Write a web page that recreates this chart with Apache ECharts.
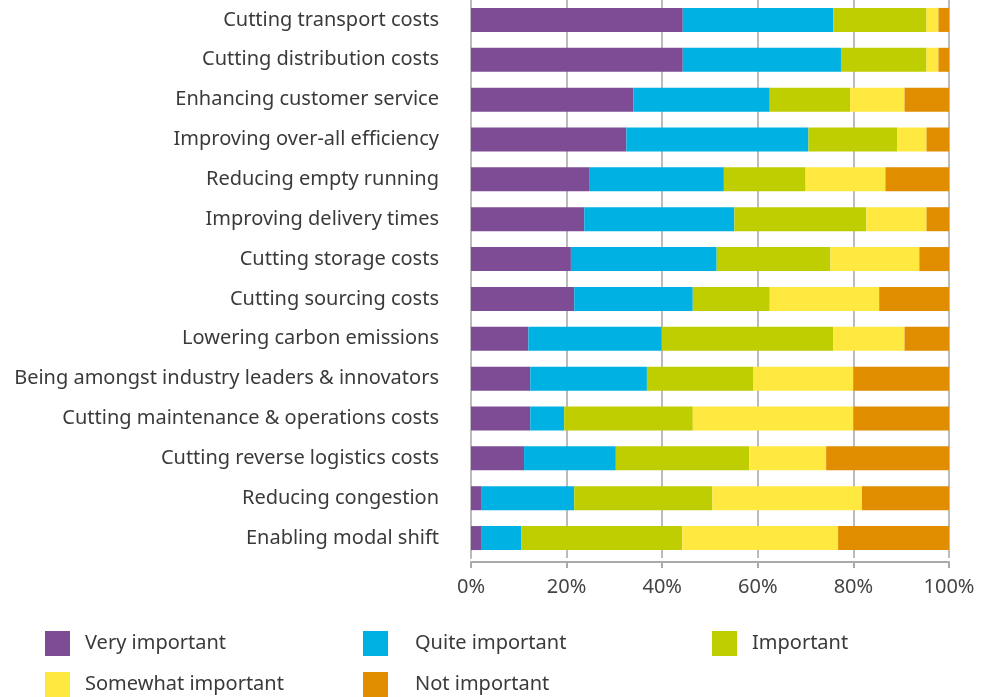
<!DOCTYPE html>
<html>
<head>
<meta charset="utf-8">
<script src="https://cdn.jsdelivr.net/npm/echarts@6/dist/echarts.min.js"></script>
<style>
  html, body { margin: 0; padding: 0; background: #fff; }
  #chart { width: 981px; height: 697px; }
</style>
</head>
<body>
<div id="chart"></div>
<script>
const categories = [
    'Cutting transport costs',
    'Cutting distribution costs',
    'Enhancing customer service',
    'Improving over-all efficiency',
    'Reducing empty running',
    'Improving delivery times',
    'Cutting storage costs',
    'Cutting sourcing costs',
    'Lowering carbon emissions',
    'Being amongst industry leaders & innovators',
    'Cutting maintenance & operations costs',
    'Cutting reverse logistics costs',
    'Reducing congestion',
    'Enabling modal shift'
];

// percentages, top row first
const veryImportant     = [44.3, 44.3, 34.0, 32.5, 24.7, 23.7, 20.9, 21.6, 12.0, 12.4, 12.4, 11.1, 2.1, 2.1];
const quiteImportant    = [31.5, 33.1, 28.5, 38.1, 28.2, 31.4, 30.5, 24.8, 27.9, 24.4, 7.1, 19.2, 19.5, 8.4];
const important         = [19.5, 17.9, 16.8, 18.6, 17.1, 27.6, 23.8, 16.1, 35.9, 22.3, 26.9, 27.9, 28.9, 33.7];
const somewhatImportant = [2.5, 2.5, 11.4, 6.1, 16.7, 12.6, 18.6, 22.9, 14.9, 20.9, 33.6, 16.1, 31.3, 32.6];
const notImportant      = [2.2, 2.2, 9.3, 4.7, 13.3, 4.7, 6.2, 14.6, 9.3, 20.0, 20.0, 25.7, 18.2, 23.2];

const seriesDefs = [
    { name: 'Very important', data: veryImportant, color: '#7e4c94' },
    { name: 'Quite important', data: quiteImportant, color: '#00b1e3' },
    { name: 'Important', data: important, color: '#bfce00' },
    { name: 'Somewhat important', data: somewhatImportant, color: '#ffe840' },
    { name: 'Not important', data: notImportant, color: '#e08d00' }
];

const textColor = '#3a3a3a';
const font = 'Noto Sans';

// one vertical legend per column, so the columns line up like the original
function legendAt(left, names, textGap) {
    return {
        left: left,
        top: 631,
        orient: 'vertical',
        padding: 0,
        height: 66,
        data: names,
        itemWidth: 25,
        itemHeight: 25,
        itemGap: 16,
        icon: 'rect',
        selectedMode: false,
        textStyle: {
            color: textColor,
            fontFamily: font,
            fontSize: 20,
            padding: [0, 0, 0, textGap]
        }
    };
}

const chart = echarts.init(document.getElementById('chart'));

const series = [];
for (let i = 0; i < seriesDefs.length; i++) {
    series.push({
        name: seriesDefs[i].name,
        type: 'bar',
        stack: 'total',
        data: seriesDefs[i].data,
        barWidth: 24,
        itemStyle: { color: seriesDefs[i].color },
        emphasis: { disabled: true }
    });
}

chart.setOption({
    animation: false,
    grid: { left: 471, right: 32, top: 0, height: 558 },
    legend: [
        legendAt(45, ['Very important', 'Somewhat important'], 10),
        legendAt(363, ['Quite important', 'Not important'], 22),
        legendAt(712, ['Important'], 10)
    ],
    xAxis: {
        type: 'value',
        min: 0,
        max: 100,
        interval: 20,
        offset: 4,
        axisLine: { show: true, lineStyle: { color: '#aaa', width: 2 } },
        axisTick: { show: true, length: 6, lineStyle: { color: '#aaa', width: 2 } },
        splitLine: { show: true, lineStyle: { color: '#bbb', width: 2 } },
        axisLabel: {
            formatter: '{value}%',
            color: '#444',
            fontFamily: font,
            fontSize: 20,
            margin: 15
        }
    },
    yAxis: {
        type: 'category',
        data: categories,
        inverse: true,
        axisLine: { show: true, lineStyle: { color: '#bbb', width: 2 } },
        axisTick: { show: false },
        axisLabel: {
            color: textColor,
            fontFamily: font,
            fontSize: 20,
            margin: 32
        }
    },
    series: series
});
</script>
</body>
</html>
